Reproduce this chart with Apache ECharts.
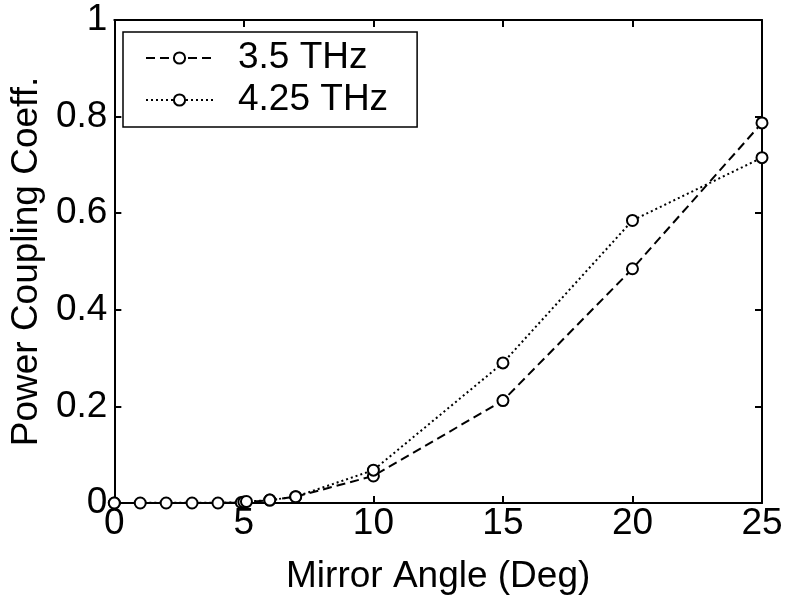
<!DOCTYPE html>
<html>
<head>
<meta charset="utf-8">
<script src="https://cdn.jsdelivr.net/npm/echarts@6/dist/echarts.min.js"></script>
<style>
  html, body { margin: 0; padding: 0; background: #fff; }
  #main { width: 786px; height: 600px; }
</style>
</head>
<body>
<div id="main"></div>
<script>
// mirror angle (deg) and power coupling coefficient
var angles35 = [0, 1, 2, 3, 4, 5, 6, 7, 10, 15, 20, 25];
var coupling35 = [0, 0, 0, 0, 0, 0.001, 0.006, 0.013, 0.056, 0.212, 0.485, 0.787];
var angles425 = [0, 4.9, 5, 5.1, 6, 7, 10, 15, 20, 25];
var coupling425 = [0, 0.001, 0.002, 0.003, 0.006, 0.013, 0.068, 0.29, 0.585, 0.715];
var xTicks = [0, 5, 10, 15, 20, 25];
var yTicks = [0, 0.2, 0.4, 0.6, 0.8, 1];

function pairs(xs, ys){
    var out = [];
    for (var i = 0; i < xs.length; i++) {
        out.push([xs[i], ys[i]]);
    }
    return out;
}

var font = 'Liberation Sans, Arial, sans-serif';
var axisLine = {show: true, onZero: false, lineStyle: {color: '#000', width: 2}};
var axisTick = {show: true, inside: true, length: 7, lineStyle: {color: '#000', width: 2}};

var myChart = echarts.init(document.getElementById('main'));
var option = {
    backgroundColor: '#fff',
    animation: false,
    grid: {left: 114, right: 24, top: 20, bottom: 95},
    legend: {
        left: 123,
        top: 32,
        orient: 'vertical',
        borderColor: '#000',
        borderWidth: 1.5,
        padding: [6, 29, 7, 22],
        itemGap: 2,
        itemWidth: 67,
        itemHeight: 14,
        textStyle: {fontFamily: font, fontSize: 37, color: '#000', padding: [0, 0, 0, 20], lineHeight: 40},
        data: ['3.5 THz', '4.25 THz']
    },
    xAxis: [
        {
            type: 'value', min: 0, max: 25, interval: 5,
            name: 'Mirror Angle (Deg)', nameLocation: 'middle', nameGap: 55,
            nameTextStyle: {fontFamily: font, fontSize: 37, color: '#000'},
            axisLine: axisLine, axisTick: axisTick, splitLine: {show: false},
            axisLabel: {fontFamily: font, fontSize: 37, color: '#000', margin: 2,
                formatter: function(v){ return xTicks.indexOf(v) >= 0 ? String(v) : ''; }}
        },
        {
            type: 'value', position: 'top', min: 0, max: 25, interval: 5,
            axisLine: axisLine, axisTick: axisTick, splitLine: {show: false},
            axisLabel: {show: false}
        }
    ],
    yAxis: [
        {
            type: 'value', min: 0, max: 1, interval: 0.2,
            name: 'Power Coupling Coeff.', nameLocation: 'middle', nameGap: 63,
            nameTextStyle: {fontFamily: font, fontSize: 37, color: '#000'},
            axisLine: axisLine, axisTick: axisTick, splitLine: {show: false},
            axisLabel: {fontFamily: font, fontSize: 37, color: '#000', margin: 7,
                formatter: function(v){ return yTicks.indexOf(v) >= 0 ? String(v) : ''; }}
        },
        {
            type: 'value', position: 'right', min: 0, max: 1, interval: 0.2,
            axisLine: axisLine, axisTick: axisTick, splitLine: {show: false},
            axisLabel: {show: false}
        }
    ],
    series: [
        {
            name: '3.5 THz',
            type: 'line',
            data: pairs(angles35, coupling35),
            symbol: 'emptyCircle',
            symbolSize: 11,
            itemStyle: {color: '#000', borderWidth: 2},
            lineStyle: {color: '#000', width: 2, type: [9, 5]}
        },
        {
            name: '4.25 THz',
            type: 'line',
            data: pairs(angles425, coupling425),
            symbol: 'emptyCircle',
            symbolSize: 11,
            itemStyle: {color: '#000', borderWidth: 2},
            lineStyle: {color: '#000', width: 2, type: [2, 3]}
        }
    ]
};
myChart.setOption(option);
</script>
</body>
</html>
